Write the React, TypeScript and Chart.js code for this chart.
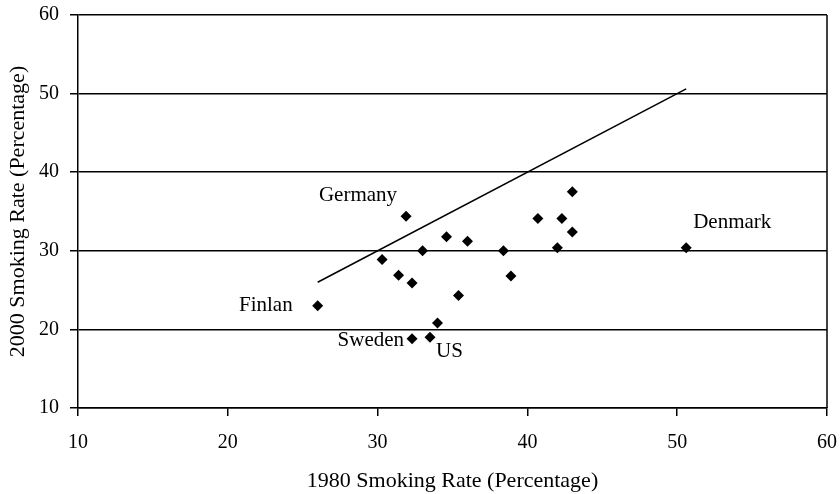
import React, { useEffect, useRef } from "react";
import { Chart, registerables } from "chart.js";

Chart.register(...registerables);

// 1980 vs 2000 smoking rates (percent), one entry per country
const rate1980 = [26.0, 31.9, 30.3, 31.4, 32.3, 33.0, 34.6, 36.0, 35.4, 34.0, 32.3, 33.5, 38.4, 38.9, 43.0, 40.7, 42.3, 43.0, 42.0, 50.6];
const rate2000 = [23.0, 34.4, 28.9, 26.9, 25.9, 30.0, 31.8, 31.2, 24.3, 20.8, 18.8, 19.0, 30.0, 26.8, 37.5, 34.1, 34.1, 32.4, 30.4, 30.4];
const countryLabels = ["Finlan", "Germany", "", "", "", "", "", "", "", "", "Sweden", "US", "", "", "", "", "", "", "", "Denmark"];

// Reference line y = x
const refLineX = [26.0, 50.6];

const xTitle = "1980 Smoking Rate (Percentage)";
const yTitle = "2000 Smoking Rate (Percentage)";
const axisMin = 10;
const axisMax = 60;
const axisStep = 10;

const FONT = "'Liberation Serif', 'Times New Roman', serif";

// label placement relative to its point (pixels)
const labelStyle: Record<string, { dx: number; dy: number; align: CanvasTextAlign }> = {
  Finlan: { dx: -25, dy: 0, align: "right" },
  Germany: { dx: -9, dy: -21, align: "right" },
  Sweden: { dx: -8, dy: 2, align: "right" },
  US: { dx: 6, dy: 14, align: "left" },
  Denmark: { dx: 7, dy: -25, align: "left" },
};

const labelPlugin = {
  id: "countryLabels",
  afterDatasetsDraw(chart: any) {
    const { ctx, chartArea, scales } = chart;
    ctx.save();
    // right frame line
    ctx.strokeStyle = "#000";
    ctx.lineWidth = 1.5;
    ctx.beginPath();
    ctx.moveTo(chartArea.right, chartArea.top);
    ctx.lineTo(chartArea.right, chartArea.bottom);
    ctx.stroke();

    ctx.font = `21px ${FONT}`;
    ctx.fillStyle = "#000";
    ctx.textBaseline = "middle";
    countryLabels.forEach((name, i) => {
      if (!name) return;
      const st = labelStyle[name] || { dx: 6, dy: 0, align: "left" as CanvasTextAlign };
      const px = scales.x.getPixelForValue(rate1980[i]);
      const py = scales.y.getPixelForValue(rate2000[i]);
      ctx.textAlign = st.align;
      ctx.fillText(name, px + st.dx, py + st.dy);
    });
    ctx.restore();
  },
};

export default function App() {
  const ref = useRef<HTMLCanvasElement>(null);

  useEffect(() => {
    if (!ref.current) return;
    const points = rate1980.map((x, i) => ({ x, y: rate2000[i] }));
    const line = refLineX.map((x) => ({ x, y: x }));
    const chart = new Chart(ref.current, {
      type: "scatter",
      data: {
        datasets: [
          {
            type: "line",
            data: line,
            borderColor: "#000",
            borderWidth: 1.5,
            pointRadius: 0,
            fill: false,
          } as any,
          {
            data: points,
            pointStyle: "rectRot",
            pointRadius: 5.5,
            backgroundColor: "#000",
            borderColor: "#000",
            borderWidth: 0,
          },
        ],
      },
      options: {
        responsive: false,
        animation: false,
        layout: { padding: { top: 15, right: 13, bottom: 0, left: 0 } },
        plugins: {
          legend: { display: false },
          tooltip: { enabled: false },
        },
        scales: {
          x: {
            type: "linear",
            min: axisMin,
            max: axisMax,
            ticks: {
              stepSize: axisStep,
              color: "#000",
              font: { family: FONT, size: 20 },
              padding: 15,
            },
            grid: {
              drawOnChartArea: false,
              drawTicks: true,
              tickLength: 8,
              color: "#000",
              lineWidth: 1.5,
            },
            border: { display: true, color: "#000", width: 1.5 },
            title: {
              display: true,
              text: xTitle,
              color: "#000",
              font: { family: FONT, size: 22 },
              padding: { top: 0, bottom: 0 },
            },
            afterFit(scale: any) {
              scale.height = 86;
              scale.paddingLeft = 0;
              scale.paddingRight = 0;
            },
          },
          y: {
            type: "linear",
            min: axisMin,
            max: axisMax,
            ticks: {
              stepSize: axisStep,
              color: "#000",
              font: { family: FONT, size: 20 },
              padding: 11,
            },
            grid: {
              drawOnChartArea: true,
              drawTicks: true,
              tickLength: 8,
              color: "#000",
              lineWidth: 1.5,
            },
            border: { display: true, color: "#000", width: 1.5 },
            title: {
              display: true,
              text: yTitle,
              color: "#000",
              font: { family: FONT, size: 22 },
              padding: { top: 5, bottom: 0 },
            },
            afterFit(scale: any) {
              scale.width = 78;
              scale.paddingTop = 0;
              scale.paddingBottom = 0;
            },
          },
        },
      },
      plugins: [labelPlugin],
    });
    return () => chart.destroy();
  }, []);

  return (
    <div style={{ position: "fixed", left: 0, top: 0, width: 840, height: 494, background: "#fff" }}>
      <canvas ref={ref} width={840} height={494} style={{ display: "block" }} />
    </div>
  );
}
